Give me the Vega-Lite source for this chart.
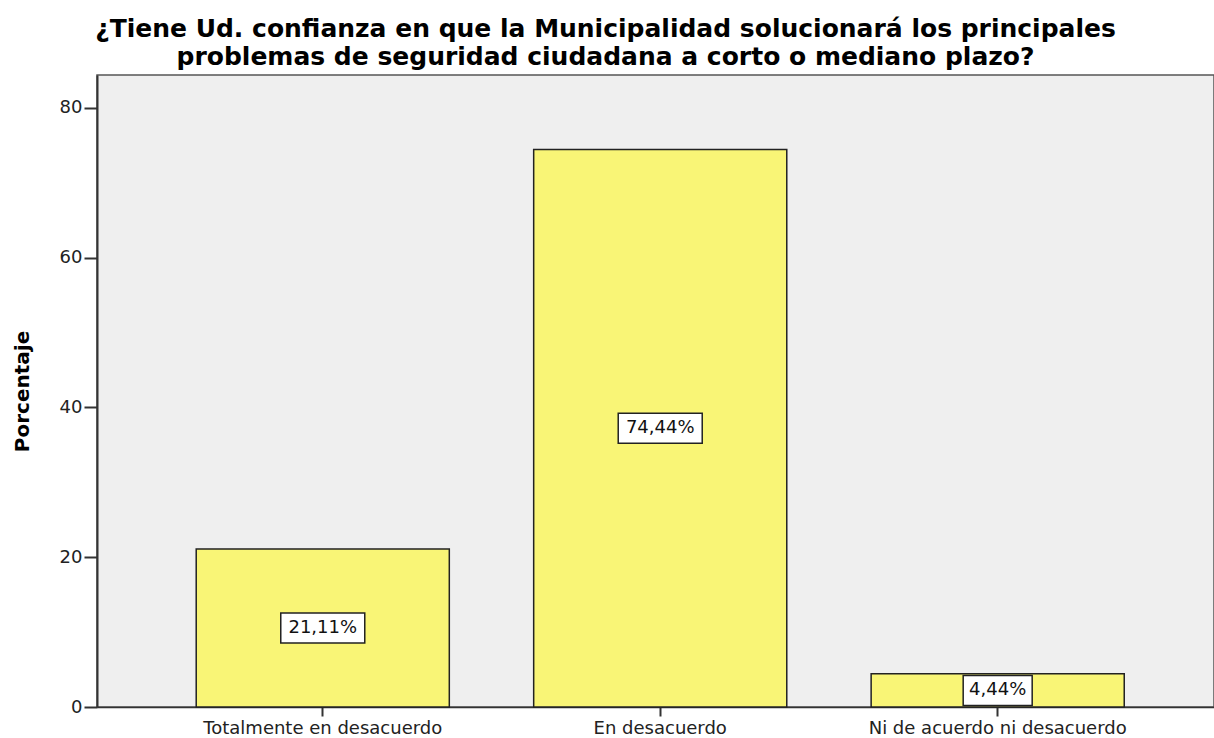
{
  "$schema": "https://vega.github.io/schema/vega-lite/v6.json",
  "autosize": "none",
  "width": 1117,
  "height": 632,
  "padding": {"left": 97, "top": 75, "right": 0, "bottom": 31},
  "background": "white",
  "config": {
    "font": "DejaVu Sans",
    "view": {"fill": "#efefef", "stroke": "#555555", "strokeWidth": 1.5}
  },
  "title": {
    "text": ["¿Tiene Ud. confianza en que la Municipalidad solucionará los principales", "problemas de seguridad ciudadana a corto o mediano plazo?"],
    "font": "DejaVu Sans",
    "fontSize": 25,
    "fontWeight": "bold",
    "color": "#000000",
    "lineHeight": 28,
    "anchor": "middle",
    "dx": -50,
    "offset": 5
  },
  "data": {
    "values": [
      {"categoria": "Totalmente en desacuerdo", "porcentaje": 21.11, "etiqueta": "21,11%"},
      {"categoria": "En desacuerdo", "porcentaje": 74.44, "etiqueta": "74,44%"},
      {"categoria": "Ni de acuerdo ni desacuerdo", "porcentaje": 4.44, "etiqueta": "4,44%"}
    ]
  },
  "transform": [{"calculate": "datum.porcentaje / 2", "as": "mitad"}],
  "encoding": {
    "x": {
      "field": "categoria",
      "type": "nominal",
      "sort": null,
      "scale": {"paddingInner": 0.25, "paddingOuter": 0.28, "align": 0.525},
      "axis": {
        "title": null,
        "labelAngle": 0,
        "labelLimit": 0,
        "labelFont": "DejaVu Sans",
        "labelFontSize": 18,
        "labelColor": "#222222",
        "labelPadding": 3,
        "tickSize": 9,
        "tickColor": "#333333",
        "tickWidth": 2,
        "domainColor": "#333333",
        "domainWidth": 1.5
      }
    }
  },
  "layer": [
    {
      "mark": {"type": "bar", "fill": "#f9f576", "stroke": "#222222", "strokeWidth": 1.5},
      "encoding": {
        "y": {
          "field": "porcentaje",
          "type": "quantitative",
          "scale": {"domain": [0, 84.4], "nice": false},
          "axis": {
            "title": "Porcentaje",
            "titleFont": "DejaVu Sans",
            "titleFontSize": 20,
            "titleFontWeight": "bold",
            "titleColor": "#000000",
            "titlePadding": 27,
            "values": [0, 20, 40, 60, 80],
            "grid": false,
            "labelFont": "DejaVu Sans",
            "labelFontSize": 18,
            "labelColor": "#222222",
            "labelPadding": 2,
            "tickSize": 13,
            "tickWidth": 2,
            "tickColor": "#333333",
            "domainColor": "#333333",
            "domainWidth": 2
          }
        }
      }
    },
    {
      "mark": {"type": "point", "filled": true, "fill": "white", "stroke": "#222222", "strokeWidth": 1.5, "opacity": 1, "size": 3600},
      "encoding": {
        "y": {"field": "mitad", "type": "quantitative"},
        "shape": {
          "condition": {"test": "datum.porcentaje < 10", "value": "M-1.15,-0.5H1.15V0.5H-1.15Z"},
          "value": "M-1.4,-0.5H1.4V0.5H-1.4Z"
        }
      }
    },
    {
      "mark": {"type": "text", "font": "DejaVu Sans", "fontSize": 18, "color": "#111111", "baseline": "middle", "align": "center"},
      "encoding": {
        "y": {"field": "mitad", "type": "quantitative"},
        "text": {"field": "etiqueta"}
      }
    }
  ]
}
